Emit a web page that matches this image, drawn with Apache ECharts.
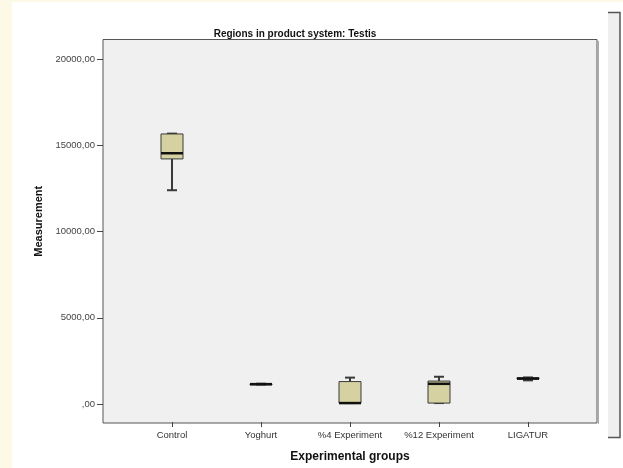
<!DOCTYPE html>
<html>
<head>
<meta charset="utf-8">
<script src="https://cdn.jsdelivr.net/npm/echarts@6/dist/echarts.min.js"></script>
<style>
html,body{margin:0;padding:0;background:#fff;}
#chart{width:623px;height:468px;}
</style>
</head>
<body>
<div id="chart"></div>
<script>
const categories = ['Control', 'Yoghurt', '%4 Experiment', '%12 Experiment', 'LIGATUR'];
const minValues = [12370, 1080, 0, 0, 1320];
const q1Values = [14190, 1090, 0, 0, 1400];
const medianValues = [14520, 1100, 0, 1120, 1420];
const q3Values = [15640, 1115, 1250, 1280, 1480];
const maxValues = [15660, 1125, 1480, 1530, 1490];
const yTickValues = [0, 5000, 10000, 15000, 20000];

const boxData = categories.map((c, i) => [i, minValues[i], q1Values[i], medianValues[i], q3Values[i], maxValues[i]]);

const FONT = 'Liberation Sans, Arial, sans-serif';
const GRID_TOP = 39.5, GRID_BOTTOM = 468 - 423;
const Y_MIN = -1100, Y_MAX = 21130;

const chart = echarts.init(document.getElementById('chart'), null, {renderer: 'canvas'});

function renderBox(params, api) {
  const x = api.value(0);
  const pMin = api.coord([x, api.value(1)]);
  const pQ1 = api.coord([x, api.value(2)]);
  const pMed = api.coord([x, api.value(3)]);
  const pQ3 = api.coord([x, api.value(4)]);
  const pMax = api.coord([x, api.value(5)]);
  const cx = pMin[0];
  const bw = 22, cw = 10;
  const lineStyle = {stroke: '#3a3a3a', lineWidth: 2};
  return {
    type: 'group',
    children: [
      {type: 'line', shape: {x1: cx, y1: pMax[1], x2: cx, y2: pQ3[1]}, style: lineStyle},
      {type: 'line', shape: {x1: cx, y1: pQ1[1], x2: cx, y2: pMin[1]}, style: lineStyle},
      {type: 'line', shape: {x1: cx - cw / 2, y1: pMax[1], x2: cx + cw / 2, y2: pMax[1]}, style: lineStyle},
      {type: 'line', shape: {x1: cx - cw / 2, y1: pMin[1], x2: cx + cw / 2, y2: pMin[1]}, style: lineStyle},
      {type: 'rect', shape: {x: cx - bw / 2, y: pQ3[1], width: bw, height: Math.max(pQ1[1] - pQ3[1], 1)},
        style: {fill: '#d6d1a0', stroke: '#3a3a3a', lineWidth: 1}},
      {type: 'line', shape: {x1: cx - bw / 2, y1: pMed[1], x2: cx + bw / 2, y2: pMed[1]},
        style: {stroke: '#111', lineWidth: 2.5}}
    ]
  };
}

const option = {
  backgroundColor: '#ffffff',
  animation: false,
  title: {
    text: 'Regions in product system: Testis',
    left: 290, top: 24, textAlign: 'center',
    textStyle: {fontFamily: FONT, fontSize: 10, fontWeight: 'bold', color: '#111'}
  },
  graphic: [
    {type: 'rect', left: 0, top: 0, z: -10, shape: {width: 12, height: 468}, style: {fill: '#fdf9e7'}},
    {type: 'rect', left: 0, top: 0, z: -10, shape: {width: 623, height: 2}, style: {fill: '#fdf9e7'}},
    {type: 'rect', left: 608, top: 12, z: -5, shape: {width: 12, height: 426}, style: {fill: '#efefef'}},
    {type: 'polyline', z: -4, shape: {points: [[608, 12.5], [620, 12.5], [620, 437.5], [608, 437.5]]},
      style: {stroke: '#555', lineWidth: 1.5, fill: null}},
    {type: 'line', z: 1, shape: {x1: 598.5, y1: 41, x2: 598.5, y2: 424}, style: {stroke: '#aaa', lineWidth: 1}}
  ],
  grid: [
    {left: 103, right: 623 - 597, top: GRID_TOP, bottom: GRID_BOTTOM, show: true,
      backgroundColor: '#f0f0f0', borderColor: '#555', borderWidth: 1},
    {left: 127.5, width: 445, top: GRID_TOP, bottom: GRID_BOTTOM}
  ],
  xAxis: [
    {type: 'value', gridIndex: 0, show: false, min: 0, max: 1},
    {type: 'category', gridIndex: 1, data: categories, boundaryGap: true, position: 'bottom',
      name: 'Experimental groups', nameLocation: 'middle', nameGap: 29,
      nameTextStyle: {fontFamily: FONT, fontSize: 12, fontWeight: 'bold', color: '#111'},
      axisLine: {show: false, onZero: false},
      axisTick: {show: true, alignWithLabel: true, interval: 0, length: 5, lineStyle: {color: '#444'}},
      axisLabel: {fontFamily: FONT, fontSize: 9.5, color: '#333', margin: 8, interval: 0},
      splitLine: {show: false}}
  ],
  yAxis: [
    {type: 'value', gridIndex: 0, min: Y_MIN, max: Y_MAX,
      name: 'Measurement', nameLocation: 'middle', nameGap: 58,
      nameTextStyle: {fontFamily: FONT, fontSize: 11, fontWeight: 'bold', color: '#111', padding: [0, 0, 0, 20]},
      axisLine: {show: false},
      axisTick: {show: true, length: 6, customValues: yTickValues, lineStyle: {color: '#444'}},
      axisLabel: {fontFamily: FONT, fontSize: 9.5, color: '#444', margin: 8, customValues: yTickValues,
        formatter: v => (v === 0 ? '' : String(v)) + ',00'},
      splitLine: {show: false}},
    {type: 'value', gridIndex: 1, min: Y_MIN, max: Y_MAX, show: false}
  ],
  series: [{
    type: 'custom',
    xAxisIndex: 1, yAxisIndex: 1,
    renderItem: renderBox,
    encode: {x: 0, y: [1, 2, 3, 4, 5]},
    data: boxData,
    z: 5
  }]
};
chart.setOption(option);
</script>
</body>
</html>
